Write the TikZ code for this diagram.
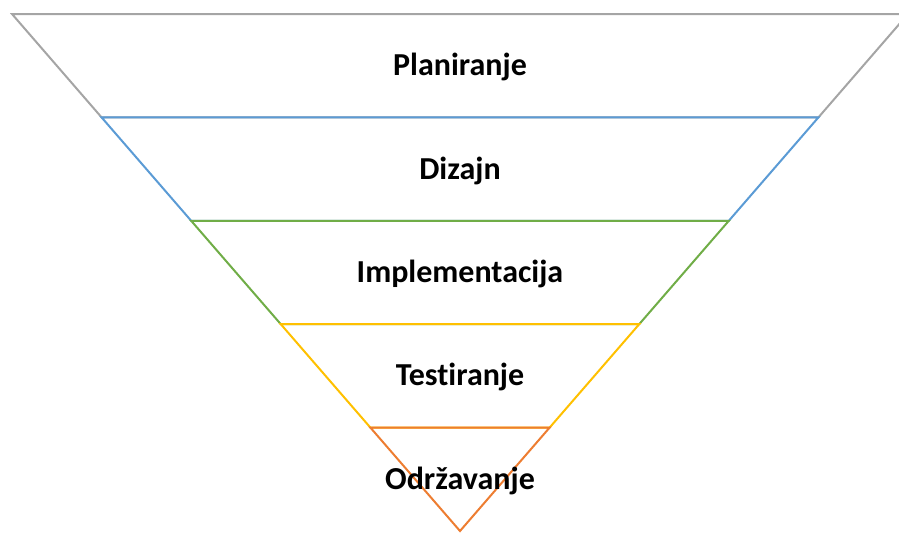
\documentclass[tikz,border=0pt]{standalone}
\usepackage{fontspec}
\setmainfont{Carlito}[Ligatures=CommonOff]
\usetikzlibrary{positioning,calc}
\definecolor{bandgray}{HTML}{A5A5A5}
\definecolor{bandblue}{HTML}{5B9BD5}
\definecolor{bandgreen}{HTML}{70AD47}
\definecolor{bandyellow}{HTML}{FFC000}
\definecolor{bandorange}{HTML}{ED7D31}
\tikzset{band/.style={line width=2pt, line join=miter}, phase/.style={font=\bfseries\fontsize{32}{36}\selectfont, black}}
\begin{document}
\begin{tikzpicture}[x=1pt, y=-1pt]
        \useasboundingbox (0,0) rectangle (899,533);
        \foreach \i/\col/\name in {0/bandgray/Planiranje,1/bandblue/Dizajn,2/bandgreen/Implementacija,3/bandyellow/Testiranje,4/bandorange/Održavanje}{
            \pgfmathsetmacro{\yt}{14+103.4*\i}
            \pgfmathsetmacro{\yb}{14+103.4*(\i+1)}
            \pgfmathsetmacro{\wt}{89.6*(5-\i)}
            \pgfmathsetmacro{\wb}{89.6*(4-\i)}
            \draw[band, \col] (460-\wt,\yt) -- (460+\wt,\yt) -- (460+\wb,\yb) -- (460-\wb,\yb) -- cycle;
            \node[phase] (phase\i) at (460,{(\yt+\yb)/2+1.5}) {\name};
        }
\end{tikzpicture}
\end{document}
